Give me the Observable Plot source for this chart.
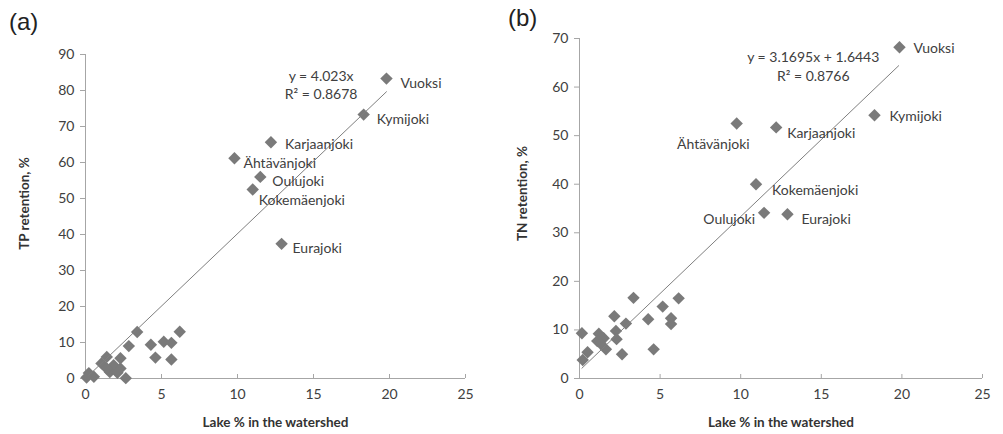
<!DOCTYPE html>
<html>
<head>
<meta charset="utf-8">
<script src="https://cdn.jsdelivr.net/npm/d3@7"></script>
<script src="https://cdn.jsdelivr.net/npm/@observablehq/plot@0.6"></script>
<style>
  html, body { margin: 0; padding: 0; background: #fff; }
  #wrap { position: relative; width: 1003px; height: 434px; display: flex; overflow: hidden; }
  .plab { position: absolute; font-family: "Liberation Sans", Arial, sans-serif; font-size: 24px; color: #222; line-height: 1; }
</style>
</head>
<body>
<div id="wrap">
  <div class="plab" style="left:9px; top:10px;">(a)</div>
  <div class="plab" style="left:508px; top:6px;">(b)</div>
</div>
<script>
// ---- Data: panel (a) TP retention ----
const namesA = ["Vuoksi","Kymijoki","Karjaanjoki","Ähtävänjoki","Oulujoki","Kokemäenjoki","Eurajoki",
  "","","","","","","","","","","","","","","","","","","",""];
const lakeA = [19.8, 18.3, 12.2, 9.8, 11.5, 11.0, 12.9,
  3.4, 6.2, 2.85, 4.3, 5.15, 5.65, 5.65, 4.6, 1.4, 2.3, 1.05, 1.85, 2.3, 1.6, 2.65, 0.22, 0.55, 0.07, 1.4, 2.1];
const tpA = [83.3, 73.3, 65.6, 61.2, 56.0, 52.5, 37.4,
  12.9, 13.0, 9.0, 9.4, 10.2, 9.9, 5.3, 5.8, 6.0, 5.6, 4.2, 3.7, 2.8, 1.8, 0.1, 1.5, 0.5, 0.3, 2.8, 1.6];
const fitA = { slope: 4.023, intercept: 0, xFrom: 0.2, xTo: 19.8 };
const eqA = ["y = 4.023x", "R² = 0.8678"];

// ---- Data: panel (b) TN retention ----
const namesB = ["Vuoksi","Kymijoki","Ähtävänjoki","Karjaanjoki","Kokemäenjoki","Oulujoki","Eurajoki",
  "","","","","","","","","","","","","","","","","","","",""];
const lakeB = [19.85, 18.3, 9.75, 12.2, 10.95, 11.45, 12.9,
  3.35, 6.15, 5.16, 2.16, 4.26, 5.68, 5.68, 2.88, 2.26, 0.15, 1.2, 2.3, 1.1, 1.5, 1.64, 2.64, 4.6, 0.5, 0.2, 1.3];
const tnB = [68.2, 54.2, 52.5, 51.7, 40.0, 34.1, 33.8,
  16.6, 16.5, 14.8, 12.8, 12.2, 12.4, 11.2, 11.3, 9.8, 9.3, 9.2, 8.1, 7.7, 8.3, 6.0, 5.0, 6.0, 5.4, 3.8, 7.2];
const fitB = { slope: 3.1695, intercept: 1.6443, xFrom: 0.15, xTo: 19.8 };
const eqB = ["y = 3.1695x + 1.6443", "R² = 0.8766"];

const xTicks = [0, 5, 10, 15, 20, 25];
const yTicksA = [0, 10, 20, 30, 40, 50, 60, 70, 80, 90];
const yTicksB = [0, 10, 20, 30, 40, 50, 60, 70];
const xTitle = "Lake % in the watershed";

// ---- Styles / label placement (pixels) ----
const labelStyleA = {
  "Vuoksi": {dx: 14, dy: 5, anchor: "start"},
  "Kymijoki": {dx: 13, dy: 5, anchor: "start"},
  "Karjaanjoki": {dx: 14, dy: 2, anchor: "start"},
  "Ähtävänjoki": {dx: 9, dy: 5, anchor: "start"},
  "Oulujoki": {dx: 12, dy: 5, anchor: "start"},
  "Kokemäenjoki": {dx: 6, dy: 11, anchor: "start"},
  "Eurajoki": {dx: 11, dy: 5, anchor: "start"}
};
const labelStyleB = {
  "Vuoksi": {dx: 14, dy: 1, anchor: "start"},
  "Kymijoki": {dx: 15, dy: 1, anchor: "start"},
  "Ähtävänjoki": {dx: 13, dy: 21, anchor: "end"},
  "Karjaanjoki": {dx: 11, dy: 6, anchor: "start"},
  "Kokemäenjoki": {dx: 16, dy: 6, anchor: "start"},
  "Oulujoki": {dx: -9, dy: 7, anchor: "end"},
  "Eurajoki": {dx: 14, dy: 5, anchor: "start"}
};

const INK = "#404040";
const AXIS = "#a6a6a6";
const MARK = "#7a7a7a";
const FONT = "Lato, 'Open Sans', sans-serif";

function panel(cfg) {
  const data = cfg.lake.map((x, i) => ({x, y: cfg.val[i], name: cfg.names[i]}));
  const fit = [cfg.fit.xFrom, cfg.fit.xTo].map(x => ({x, y: cfg.fit.slope * x + cfg.fit.intercept}));
  const labelMarks = data.filter(d => d.name).map(d => {
    const s = cfg.labelStyle[d.name];
    return Plot.text([d], {x: "x", y: "y", text: "name", dx: s.dx, dy: s.dy, textAnchor: s.anchor,
      fill: INK, fontSize: 14});
  });
  const yMax = cfg.yTicks[cfg.yTicks.length - 1];
  return Plot.plot({
    width: cfg.width, height: 434,
    marginLeft: cfg.marginLeft, marginRight: cfg.marginRight, marginTop: cfg.marginTop, marginBottom: 56,
    x: {domain: [0, 25], ticks: xTicks},
    y: {domain: [0, yMax], ticks: cfg.yTicks},
    style: {fontFamily: FONT, fontSize: "14px", color: INK, background: "white", overflow: "visible"},
    marks: [
      Plot.ruleY([0], {stroke: AXIS, strokeWidth: 1}),
      Plot.ruleX([0], {stroke: AXIS, strokeWidth: 1}),
      Plot.axisY({ticks: cfg.yTicks, tickSize: 5, tickPadding: 6, stroke: AXIS, fill: INK, label: null, fontSize: 14}),
      Plot.axisX({ticks: xTicks, tickSize: 0, tickPadding: 11, fill: INK, label: null, fontSize: 14}),
      Plot.ruleX(xTicks, {x: d => d, y1: 0, y2: 0, insetBottom: 4, stroke: AXIS}),
      Plot.dot(data, {x: "x", y: "y", symbol: "diamond2", r: 5.6, fill: MARK, stroke: "none"}),
      Plot.line(fit, {x: "x", y: "y", stroke: "#7f7f7f", strokeWidth: 1}),
      ...labelMarks,
      Plot.text([cfg.eq[0]], {x: cfg.eqX, y: cfg.eqY1, text: d => d, fill: INK, fontSize: 14}),
      Plot.text([cfg.eq[1]], {x: cfg.eqX, y: cfg.eqY2, text: d => d, fill: INK, fontSize: 14}),
      Plot.text([xTitle], {frameAnchor: "bottom", dy: 44, textAnchor: "middle", lineAnchor: "middle",
        text: d => d, fontWeight: "bold", fontSize: 13.5, fill: "#333"}),
      Plot.text([cfg.yTitle], {frameAnchor: "left", dx: cfg.yTitleDx, dy: cfg.yTitleDy, rotate: -90,
        textAnchor: "middle", lineAnchor: "middle",
        text: d => d, fontWeight: "bold", fontSize: 13.5, fill: "#333"})
    ]
  });
}

const wrap = document.getElementById("wrap");
const a = panel({names: namesA, lake: lakeA, val: tpA, fit: fitA, eq: eqA, eqX: 15.5, eqY1: 84, eqY2: 79,
  yTicks: yTicksA, labelStyle: labelStyleA, width: 500, marginLeft: 85, marginRight: 35, marginTop: 54,
  yTitle: "TP retention, %", yTitleDx: -61, yTitleDy: -13});
const b = panel({names: namesB, lake: lakeB, val: tnB, fit: fitB, eq: eqB, eqX: 14.5, eqY1: 66.0, eqY2: 62.1,
  yTicks: yTicksB, labelStyle: labelStyleB, width: 503, marginLeft: 79, marginRight: 21, marginTop: 38,
  yTitle: "TN retention, %", yTitleDx: -57, yTitleDy: -15});
a.style.display = "block";
b.style.display = "block";
wrap.appendChild(a);
wrap.appendChild(b);
</script>
</body>
</html>
